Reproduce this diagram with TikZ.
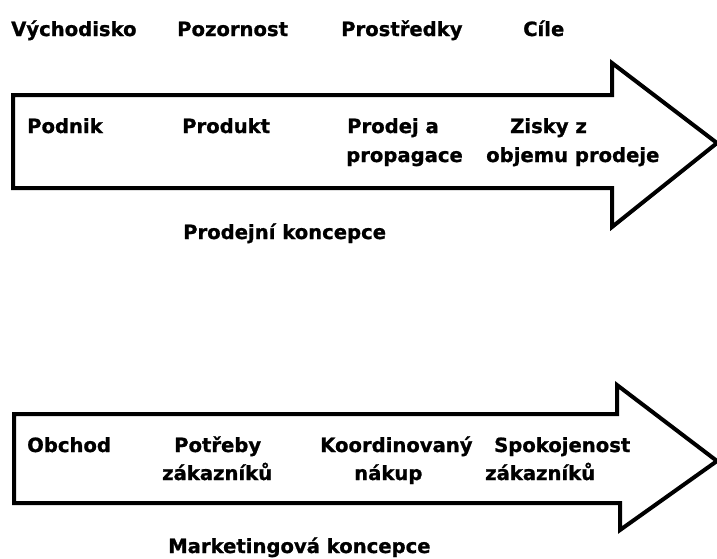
\documentclass[tikz,border=0pt]{standalone}
\usepackage{fontspec}
\setmainfont{DejaVu Sans}[BoldFeatures={FakeBold=1}]
\begin{document}
\begin{tikzpicture}[x=1pt,y=-1pt,
  lbl/.style={anchor=base west,inner sep=0pt,font=\bfseries\fontsize{19.6}{24}\selectfont},
  arrowshape/.style={draw=black,line width=4pt,line join=miter,fill=white}]
\useasboundingbox (0,0) rectangle (717,558);
% top arrow
\draw[arrowshape] (13,95) -- (612,95) -- (612,63) -- (717,143) -- (612,227) -- (612,188) -- (13,188) -- cycle;
% bottom arrow
\draw[arrowshape] (14,414) -- (617,414) -- (617,385) -- (717,461) -- (620,530) -- (620,503) -- (14,503) -- cycle;
% headers
\node[lbl] (h1) at (11,36) {Východisko};
\node[lbl] (h2) at (177,36) {Pozornost};
\node[lbl] (h3) at (341,36) {Prostředky};
\node[lbl] (h4) at (523,36) {Cíle};
% top arrow texts
\node[lbl] (t1) at (27,133) {Podnik};
\node[lbl] (t2) at (182,133) {Produkt};
\node[lbl] (t3a) at (347,133) {Prodej a};
\node[lbl] (t3b) at (346,162) {propagace};
\node[lbl] (t4a) at (510,133) {Zisky z};
\node[lbl] (t4b) at (486,162) {objemu prodeje};
\node[lbl] (tc) at (183,239) {Prodejní koncepce};
% bottom arrow texts
\node[lbl] (b1) at (27,452) {Obchod};
\node[lbl] (b2a) at (174,452) {Potřeby};
\node[lbl] (b2b) at (162,480) {zákazníků};
\node[lbl] (b3a) at (320,452) {Koordinovaný};
\node[lbl] (b3b) at (354,480) {nákup};
\node[lbl] (b4a) at (494,452) {Spokojenost};
\node[lbl] (b4b) at (485,480) {zákazníků};
\node[lbl] (bc) at (168,553) {Marketingová koncepce};
\end{tikzpicture}
\end{document}
